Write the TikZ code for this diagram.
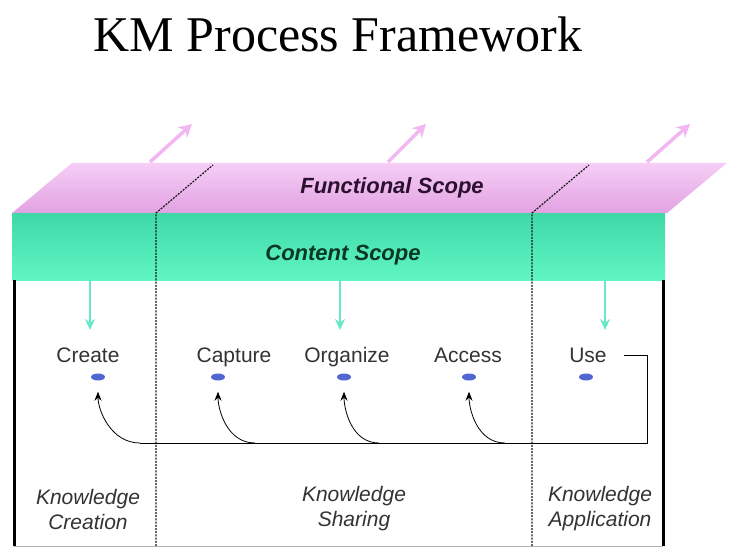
\documentclass[tikz,border=0pt]{standalone}
\usepackage{fontspec}
\setmainfont{Liberation Serif}
\setsansfont{Liberation Sans}
\usepackage{tikz}
\usetikzlibrary{arrows,arrows.meta,shapes.geometric,calc,positioning}

\definecolor{pinktop}{RGB}{246,206,246}
\definecolor{pinkbottom}{RGB}{226,162,226}
\definecolor{minttop}{RGB}{62,216,166}
\definecolor{mintbottom}{RGB}{96,246,196}
\definecolor{mint}{RGB}{104,232,200}
\definecolor{pinkarrow}{RGB}{242,182,242}
\definecolor{dotblue}{RGB}{82,102,210}

\begin{document}
\begin{tikzpicture}[
        %Units are pixels of the layout, y grows downwards
        x=1pt, y=-1pt,
        scope arrow/.style={line width=3.5pt, -{Stealth[length=13pt,width=14pt]}, color=pinkarrow},
        content arrow/.style={line width=2pt, -{Stealth[length=11pt,width=10pt]}, color=mint},
        border line/.style={line width=3pt},
        phase line/.style={line width=1.2pt, black!90, dash pattern=on 2pt off 1.2pt},
        feedback/.style={line width=0.8pt, -{Stealth[length=9pt,width=7pt]}},
        step label/.style={anchor=base, font=\sffamily\fontsize{21}{21}\selectfont, text=black!80},
        step dot/.style={ellipse, fill=dotblue, minimum width=14pt, minimum height=7pt, inner sep=0pt},
        phase label/.style={font=\sffamily\itshape\fontsize{21}{25}\selectfont, align=center, text=black!80},
        scope label/.style={font=\sffamily\bfseries\itshape\fontsize{22}{22}\selectfont}
    ]
    % Important coordinates are defined
    \newcommand\bottomy{546}
    \useasboundingbox (0,0) rectangle (730,548);

    % Title
    \node[anchor=base] (title) at (338,52) {\fontsize{50}{50}\selectfont KM Process Framework};

    % Functional scope
    \shade[top color=pinktop, bottom color=pinkbottom]
        (12,213) -- (667,213) -- (727,163) -- (72,163) -- cycle;
    \draw[scope arrow] (150,162) -- (192,124);
    \draw[scope arrow] (388,162) -- (426,124);
    \draw[scope arrow] (647,162) -- (690,124);
    \node[scope label, text={rgb,255:red,44;green,16;blue,48}] (functional) at (392,188) {Functional Scope};

    % Content scope
    \shade[top color=minttop, bottom color=mintbottom] (12,213) rectangle (665,280);
    \node[scope label, text={rgb,255:red,10;green,56;blue,36}] (content) at (343,255) {Content Scope};

    % Frame
    \draw[border line] (14,280) -- (14,\bottomy);
    \draw[border line] (663,280) -- (663,\bottomy);
    \draw[gray!60] (14,\bottomy) -- (663,\bottomy);

    % Phase borders
    \draw[phase line] (156,\bottomy) -- (156,213) -- (213,165);
    \draw[phase line] (532,\bottomy) -- (532,213) -- (589,165);

    % Steps
    \node[step label] (create) at (88,362) {Create};
    \node[step label] (capture) at (234,362) {Capture};
    \node[step label] (organize) at (347,362) {Organize};
    \node[step label] (access) at (468,362) {Access};
    \node[step label] (use) at (588,362) {Use};

    \node[step dot] (createdot) at (98,377) {};
    \node[step dot] (capturedot) at (218,377) {};
    \node[step dot] (organizedot) at (344,377) {};
    \node[step dot] (accessdot) at (469,377) {};
    \node[step dot] (usedot) at (586,377) {};

    % Content flows down
    \draw[content arrow] (90,280) -- (90,330);
    \draw[content arrow] (340,280) -- (340,330);
    \draw[content arrow] (605,280) -- (605,330);

    % Feedback loop
    \coordinate (loopcorner) at (647,443);
    \coordinate (loopend) at (140,443);
    \draw[line width=0.8pt] (624,355) -| (loopcorner) -- (loopend);
    \coordinate (branchcapture) at (255,443);
    \coordinate (branchorganize) at (379,443);
    \coordinate (branchaccess) at (505,443);
    \draw[feedback, shorten >=11pt] (loopend) to[out=180, in=-90] (createdot.south);
    \draw[feedback, shorten >=11pt] (branchcapture) to[out=180, in=-90] (capturedot.south);
    \draw[feedback, shorten >=11pt] (branchorganize) to[out=180, in=-90] (organizedot.south);
    \draw[feedback, shorten >=11pt] (branchaccess) to[out=180, in=-90] (accessdot.south);

    % Phases
    \node[phase label] (creation) at (88,509) {Knowledge\\Creation};
    \node[phase label] (sharing) at (354,509) {Knowledge\\Sharing};
    \node[phase label] (application) at (600,509) {Knowledge\\Application};
\end{tikzpicture}
\end{document}
